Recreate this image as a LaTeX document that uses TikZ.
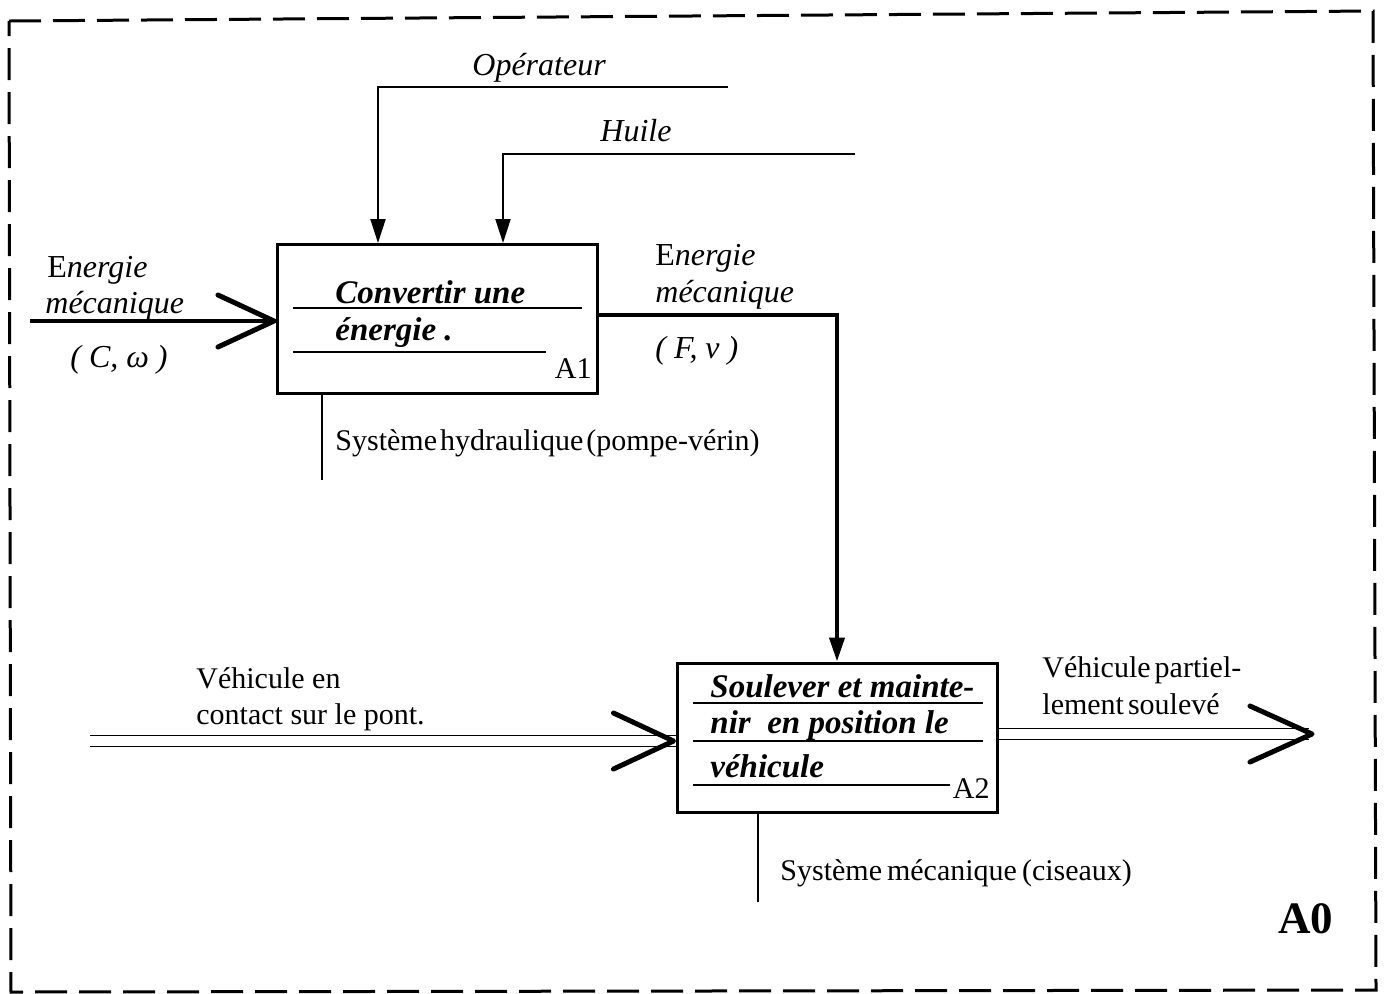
\documentclass[tikz,border=0pt]{standalone}
\usepackage{fontspec}
\setmainfont{Liberation Serif}
\usetikzlibrary{arrows.meta,calc}
\begin{document}
\begin{tikzpicture}[x=0.5pt,y=-0.5pt,
  font=\fontsize{15}{18}\selectfont,
  fbox/.style={draw, line width=1.5pt, minimum width=160pt, minimum height=74.5pt, inner sep=0pt},
  ctrl/.style={line width=1pt},
  heavy/.style={line width=2pt},
  chev/.style={line width=2.5pt, line cap=round, line join=round},
  dbl/.style={double, line width=0.9pt, double distance=4.6pt},
  lbl/.style={inner sep=0pt, anchor=base west},
  ilbl/.style={lbl, font=\fontsize{16}{19}\selectfont\itshape},
  btxt/.style={lbl, font=\fontsize{16.5}{20}\selectfont\bfseries\itshape},
  uline/.style={line width=0.8pt},
  tri/.style={-{Triangle[length=12pt,width=7.5pt]}},
  frame/.style={line width=1.5pt, dash pattern=on 16pt off 6pt},
]
\useasboundingbox (0,0) rectangle (1385,993);
% frame
\draw[frame] (9,21) -- (1373,11) -- (1376,990) -- (11,992) -- cycle;

% boxes
\node[fbox] (A1) at (437.5,319) {};
\node[fbox] (A2) at (837,737.5) {};

% A1 contents
\node[btxt] (A1a) at (335,303) {Convertir une};
\node[btxt] (A1b) at (335,340) {énergie .};
\draw[uline] (293,308) -- (582,308);
\draw[uline] (293,352) -- (546,352);
\node[lbl, anchor=base east] (A1id) at (592,378) {A1};

% A2 contents
\node[btxt] (A2a) at (710,697) {Soulever et mainte-};
\node[btxt] (A2b) at (710,733) {nir\ \ en position le};
\node[btxt] (A2c) at (710,777) {véhicule};
\draw[uline] (693,703) -- (983,703);
\draw[uline] (693,741) -- (983,741);
\draw[uline] (693,785) -- (950,785);
\node[lbl, anchor=base east] (A2id) at (990,798) {A2};

% coordinates
\coordinate (inE) at (30,321);
\coordinate (opS) at (728,87);
\coordinate (opX) at (378,0);
\coordinate (hS) at (855,154);
\coordinate (hX) at (503,0);
\coordinate (m1) at (322,480);
\coordinate (m2) at (758,902);
\coordinate (in2) at (90,741);
\coordinate (out2) at (1312,734);

% input A1
\draw[heavy] (inE) -- (inE -| A1.west);
\draw[chev] ($(inE -| A1.west)+(-58,-26)$) -- ($(inE -| A1.west)+(-2,0)$) -- ($(inE -| A1.west)+(-58,26)$);

% controls A1
\draw[ctrl, tri] (opS) -| (A1.north -| opX);
\draw[ctrl, tri] (hS) -| (A1.north -| hX);

% mechanism A1
\draw[ctrl] (A1.south -| m1) -- (m1);

% output A1 -> A2
\draw[heavy, tri] ($(A1.east)+(0,-4)$) -| (A2.north);

% input A2
\draw[dbl] (in2) -- (in2 -| A2.west);
\draw[chev] ($(in2 -| A2.west)+(-62,-28)$) -- ($(in2 -| A2.west)+(-2,0)$) -- ($(in2 -| A2.west)+(-62,28)$);

% output A2
\draw[dbl] (A2.east |- out2) -- ($(out2)+(-3,0)$);
\draw[chev] ($(out2)+(-62,-28)$) -- (out2) -- ($(out2)+(-62,28)$);

% mechanism A2
\draw[ctrl] (A2.south -| m2) -- (m2);

% labels
\node[ilbl] (lOp) at (472,75) {Opérateur};
\node[ilbl] (lHu) at (600,141) {Huile};
\node[ilbl] (lE1) at (47,277) {{\upshape E}nergie};
\node[ilbl] (lM1) at (45,313) {mécanique};
\node[ilbl] (lC) at (70,367) {( C, ω )};
\node[ilbl] (lE2) at (655,265) {{\upshape E}nergie};
\node[ilbl] (lM2) at (655,302) {mécanique};
\node[ilbl] (lF) at (655,358) {( F, v )};
\node[lbl] (lS1) at (335,450) {\spaceskip=1.5pt plus 0.5pt\relax Système hydraulique (pompe-vérin)};
\node[lbl] (lV1) at (196,688) {Véhicule en};
\node[lbl] (lV2) at (196,724) {contact sur le pont.};
\node[lbl] (lP1) at (1042,677) {\spaceskip=2pt plus 0.5pt\relax Véhicule partiel-};
\node[lbl] (lP2) at (1042,714) {\spaceskip=2pt plus 0.5pt\relax lement soulevé};
\node[lbl] (lS2) at (780,880) {\spaceskip=2.5pt plus 0.5pt\relax Système mécanique (ciseaux)};
\node[lbl, font=\fontsize{22.5}{26}\selectfont\bfseries] (A0) at (1278,933) {A0};
\end{tikzpicture}
\end{document}
